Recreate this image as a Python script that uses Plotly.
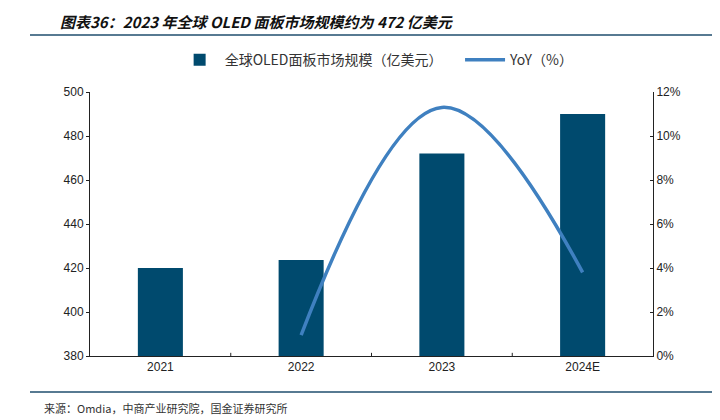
import plotly.graph_objects as go

# Data
years = ["2021", "2022", "2023", "2024E"]
market_size = [420, 423.6, 472, 490]          # 亿美元
yoy_years = ["2022", "2023", "2024E"]
yoy_pct = [0.95, 11.3, 3.8]                   # %

bar_color = "#004a6e"
line_color = "#3f80c0"
rule_color = "#1f4e6e"
font_cjk = "Noto Sans CJK SC"
font_num = "Liberation Sans, Arial"

fig = go.Figure()

fig.add_trace(go.Bar(
    name="全球OLED面板市场规模（亿美元）&nbsp;&nbsp;&nbsp;&nbsp;",
    x=years,
    y=market_size,
    marker_color=bar_color,
    marker_line_width=0,
    yaxis="y",
))

fig.add_trace(go.Scatter(
    name="YoY（%）",
    x=yoy_years,
    y=yoy_pct,
    mode="lines",
    line=dict(color=line_color, width=3.5, shape="spline", smoothing=1.1),
    yaxis="y2",
))

# page body adds an 8px offset, so the figure is 8px smaller each way
fig.update_layout(
    width=712, height=412,
    margin=dict(l=82, r=67, t=84, b=64),
    paper_bgcolor="white",
    plot_bgcolor="white",
    bargap=0.68,
    showlegend=True,
    legend=dict(
        orientation="h", x=0.51, xanchor="center", y=1.121, yanchor="middle",
        font=dict(family=font_cjk, size=14, color="#333333"),
        itemwidth=40, tracegroupgap=0,
    ),
    xaxis=dict(
        type="category",
        showline=True, linecolor="#222222", linewidth=1,
        ticks="", showgrid=False,
        tickfont=dict(family=font_num, size=12, color="#222222"),
    ),
    yaxis=dict(
        range=[380, 500], dtick=20,
        showline=True, linecolor="#222222", linewidth=1,
        ticks="outside", ticklen=3, tickcolor="#222222",
        showgrid=False, zeroline=False,
        tickfont=dict(family=font_num, size=12, color="#222222"),
    ),
    yaxis2=dict(
        range=[0, 12], dtick=2, ticksuffix="%",
        overlaying="y", side="right",
        showline=True, linecolor="#222222", linewidth=1,
        ticks="inside", ticklen=3, tickcolor="#222222",
        showgrid=False, zeroline=False,
        tickfont=dict(family=font_num, size=12, color="#222222"),
    ),
    annotations=[
        dict(text="<b><i>图表36：2023 年全球 OLED 面板市场规模约为 472 亿美元</i></b>",
             xref="paper", yref="paper", x=-0.057, y=1.266,
             xanchor="left", yanchor="middle", showarrow=False,
             font=dict(family=font_cjk, size=15, color="#111111")),
        dict(text="来源：Omdia，中商产业研究院，国金证券研究所",
             xref="paper", yref="paper", x=-0.086, y=-0.197,
             xanchor="left", yanchor="middle", showarrow=False,
             font=dict(family=font_cjk, size=11, color="#333333")),
    ],
    shapes=[
        dict(type="line", xref="paper", yref="paper", x0=-0.1066, x1=1.119,
             y0=1.216, y1=1.216, line=dict(color=rule_color, width=1.5)),
        dict(type="line", xref="paper", yref="paper", x0=-0.1066, x1=1.119,
             y0=-0.136, y1=-0.136, line=dict(color=rule_color, width=1.5)),
    ],
)

# x-axis tick marks between categories
for boundary in [0.5, 1.5, 2.5]:
    fig.add_shape(type="line", xref="x", yref="paper", x0=boundary, x1=boundary,
                  y0=0, y1=0.012, line=dict(color="#222222", width=1))

fig.write_html("out.html")
